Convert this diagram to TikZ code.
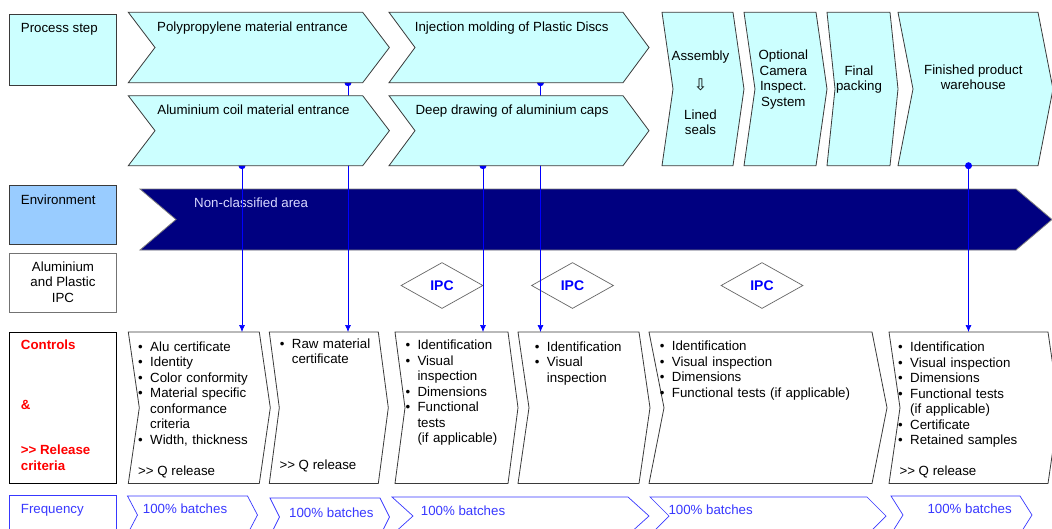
\documentclass[tikz,border=0pt]{standalone}
\usepackage{fontspec}
\setmainfont{Liberation Sans}
\newfontfamily\arrowfont{DejaVu Sans}
\usetikzlibrary{arrows.meta,positioning,shapes.geometric}
\tikzset{>={Latex[width=6pt,length=7pt]}}
\pgfdeclarelayer{front}
\pgfsetlayers{main,front}

\definecolor{stepcyan}{HTML}{CCFFFF}
\definecolor{envblue}{HTML}{99CCFF}
\definecolor{areanavy}{HTML}{000080}
\definecolor{arealabel}{HTML}{D8D8FF}
\definecolor{linkblue}{HTML}{0000FF}
\definecolor{freqblue}{HTML}{3838FF}
\definecolor{edgegray}{HTML}{3A3A3A}

\tikzset{
  txt/.style={inner sep=0pt, font=\fontsize{13.3}{15.5}\selectfont},
  ctrllist/.style={txt, anchor=north west, text width=230pt, align=left},
  headbox/.style={draw=edgegray, line width=0.8pt},
  procbox/.style={draw=edgegray, fill=stepcyan, line width=0.8pt},
  ctrlbox/.style={draw=edgegray, fill=white, line width=0.8pt},
  freqbox/.style={draw=freqblue, fill=white, line width=0.7pt},
  areabox/.style={draw=gray, fill=areanavy, line width=0.8pt},
  ipc/.style={diamond, draw=gray!80!black, fill=white, line width=0.7pt,
    minimum width=82pt, minimum height=46pt, inner sep=0pt, text=linkblue,
    font=\fontsize{14}{14}\selectfont\bfseries},
  link/.style={linkblue, line width=0.7pt},
}

\newcommand\twogt{>\kern0pt>}
\newcommand\itm[1]{\par\hangindent=12pt\hangafter=1\noindent\hbox to 12pt{\textbullet\hss}#1}
% arrow shaped box: style, name, left, right, top, bottom, point depth
\newcommand\flowbox[7]{%
  \draw[#1] (#3,#5) -- (#4,#5) -- ({#4+#7},{(#5+#6)/2}) -- (#4,#6) -- (#3,#6)
    -- ({#3+#7},{(#5+#6)/2}) -- cycle;
  \node[inner sep=0pt, outer sep=0pt, minimum width={#4-#3}, minimum height={#6-#5}]
    (#2) at ({(#3+#4)/2},{(#5+#6)/2}) {};
}

\begin{document}
\begin{tikzpicture}[x=1pt,y=-1pt]
  \useasboundingbox (0,0) rectangle (1052,528);
  \fill[white] (0,0) rectangle (1052,528);

  %% process steps (on top, so the links run behind them)
  \begin{pgfonlayer}{front}
    \flowbox{procbox}{pp}{128.3}{362.7}{12.3}{82.7}{26.7}
    \flowbox{procbox}{alc}{128.3}{362.7}{95.7}{165.7}{26.7}
    \flowbox{procbox}{inj}{389}{623}{12.3}{82.7}{26}
    \flowbox{procbox}{deep}{389}{623}{95.7}{165.7}{26}
    \flowbox{procbox}{asm}{662}{733}{12.3}{165.7}{11}
    \flowbox{procbox}{cam}{744}{816}{12.3}{165.7}{11}
    \flowbox{procbox}{pack}{827}{890}{12.3}{165.7}{8}
    \flowbox{procbox}{wh}{898}{1038}{12.3}{165.7}{15}

    \node[txt, anchor=base] (pp-t) at (252.5,31) {Polypropylene material entrance};
    \node[txt, anchor=base] (alc-t) at (253.5,114) {Aluminium coil material entrance};
    \node[txt, anchor=base] (inj-t) at (511.7,31) {Injection molding of Plastic Discs};
    \node[txt, anchor=base] (deep-t) at (512,114) {Deep drawing of aluminium caps};
    \node[txt, anchor=base] (asm-t) at (700.5,60) {Assembly};
    \node[inner sep=0pt, font=\arrowfont\fontsize{16}{16}\selectfont] (asm-a) at (700.5,85) {⇩};
    \node[txt, anchor=north, align=center] (asm-b) at (700.5,109.4) {Lined\\seals};
    \node[txt, anchor=north, align=center] (cam-t) at (783.3,49.7) {Optional\\Camera\\Inspect.\\System};
    \node[txt, anchor=north, align=center] (pack-t) at (859,65.3) {Final\\packing};
    \node[txt, anchor=north, align=center] (wh-t) at (973.3,64.3) {Finished product\\warehouse};
  \end{pgfonlayer}

  %% row captions
  \flowbox{headbox, fill=stepcyan}{lstep}{9.3}{116.7}{14}{85.7}{0}
  \flowbox{headbox, fill=envblue}{lenv}{9.3}{116.7}{185}{244.3}{0}
  \flowbox{headbox, draw=gray!90!black, fill=white}{lipc}{9.3}{116.7}{253.3}{312}{0}
  \flowbox{headbox, draw=black, fill=white}{lctl}{9.3}{116.7}{332.3}{483.3}{0}
  \flowbox{headbox, draw=freqblue, fill=white}{lfreq}{9.3}{116.7}{495.7}{540}{0}

  \node[txt, anchor=base west] (lstep-t) at (20.7,32) {Process step};
  \node[txt, anchor=base west] (lenv-t) at (20.7,204) {Environment};
  \node[txt, anchor=north, align=center] (lipc-t) at (63,261.4) {Aluminium\\and Plastic\\IPC};
  \node[txt, anchor=north west, align=left, text=red, font=\fontsize{13.3}{15.5}\selectfont\bfseries]
    (lctl-t) at (20.7,339.4) {Controls\\[44.5pt]\&\\[29.8pt]\twogt{} Release\\criteria};
  \node[txt, anchor=base west, text=freqblue] (lfreq-t) at (20.7,513.3) {Frequency};

  %% environment
  \flowbox{areabox}{area}{140}{1016}{189}{250}{36}
  \node[txt, anchor=base west, text=arealabel] (area-t) at (194,207.7) {Non-classified area};

  %% controls and release criteria
  \flowbox{ctrlbox}{c1}{128.3}{259.3}{332}{483.5}{11}
  \flowbox{ctrlbox}{c2}{269.3}{378.3}{332}{483.5}{10}
  \flowbox{ctrlbox}{c3}{395}{508}{332}{483.5}{10}
  \flowbox{ctrlbox}{c4}{518}{639}{332}{483.5}{11}
  \flowbox{ctrlbox}{c5}{649}{872}{332}{483.5}{15}
  \flowbox{ctrlbox}{c6}{889}{1048}{332}{483.5}{11}

  \node[ctrllist] (c1-t) at (138,335.6) {\itm{Alu certificate}\itm{Identity}\itm{Color conformity}%
    \itm{Material specific\newline conformance\newline criteria}\itm{Width, thickness}\par};
  \node[txt, anchor=base west] (c1-r) at (138,475) {\twogt{} Q release};
  \node[ctrllist] (c2-t) at (279.7,332.6) {\itm{Raw material\newline certificate}\par};
  \node[txt, anchor=base west] (c2-r) at (279.3,469) {\twogt{} Q release};
  \node[ctrllist] (c3-t) at (405.3,333.9) {\itm{Identification}\itm{Visual\newline inspection}%
    \itm{Dimensions}\itm{Functional\newline tests\newline (if applicable)}\par};
  \node[ctrllist] (c4-t) at (534.7,335.6) {\itm{Identification}\itm{Visual\newline inspection}\par};
  \node[ctrllist] (c5-t) at (659.7,334.9) {\itm{Identification}\itm{Visual inspection}%
    \itm{Dimensions}\itm{Functional tests (if applicable)}\par};
  \node[ctrllist] (c6-t) at (898,335.9) {\itm{Identification}\itm{Visual inspection}%
    \itm{Dimensions}\itm{Functional tests\newline (if applicable)}\itm{Certificate}\itm{Retained samples}\par};
  \node[txt, anchor=base west] (c6-r) at (899.3,475.7) {\twogt{} Q release};

  %% frequency
  \flowbox{freqbox}{f1}{127.5}{247.5}{496}{534}{10}
  \flowbox{freqbox}{f2}{270}{380}{498}{536}{9.5}
  \flowbox{freqbox}{f3}{392}{628}{497}{535}{21}
  \flowbox{freqbox}{f4}{650}{867}{497}{535}{19}
  \flowbox{freqbox}{f5}{891}{1020}{496}{534}{12}
  \node[txt, anchor=base west, text=freqblue] (f1-t) at (142.7,513.3) {100\% batches};
  \node[txt, anchor=base west, text=freqblue] (f2-t) at (289,517.3) {100\% batches};
  \node[txt, anchor=base west, text=freqblue] (f3-t) at (420.7,515) {100\% batches};
  \node[txt, anchor=base west, text=freqblue] (f4-t) at (668.3,514) {100\% batches};
  \node[txt, anchor=base west, text=freqblue] (f5-t) at (927.3,513.3) {100\% batches};

  %% in-process controls
  \node[ipc] (ipc1) at (442,285.5) {IPC};
  \node[ipc] (ipc2) at (572.5,285.5) {IPC};
  \node[ipc] (ipc3) at (762,285.5) {IPC};

  %% links from the steps down to their controls
  \draw[link,->] (alc.south -| 242,0) -- (c1.north -| 242,0);
  \fill[linkblue] (alc.south -| 242,0) circle (3.5pt);
  \draw[link,->] (pp.south -| 348,0) -- (c2.north -| 348,0);
  \fill[linkblue] (pp.south -| 348,0) circle (3.5pt);
  \draw[link,->] (deep.south -| 483,0) -- (c3.north -| 483,0);
  \fill[linkblue] (deep.south -| 483,0) circle (3.5pt);
  \draw[link,->] (inj.south -| 540.5,0) -- (c4.north -| 540.5,0);
  \fill[linkblue] (inj.south -| 540.5,0) circle (3.5pt);

  \begin{pgfonlayer}{front}
    \draw[link,->] (wh.south -| 968.5,0) -- (c6.north -| 968.5,0);
    \fill[linkblue] (wh.south -| 968.5,0) circle (3.5pt);
  \end{pgfonlayer}

\end{tikzpicture}
\end{document}
